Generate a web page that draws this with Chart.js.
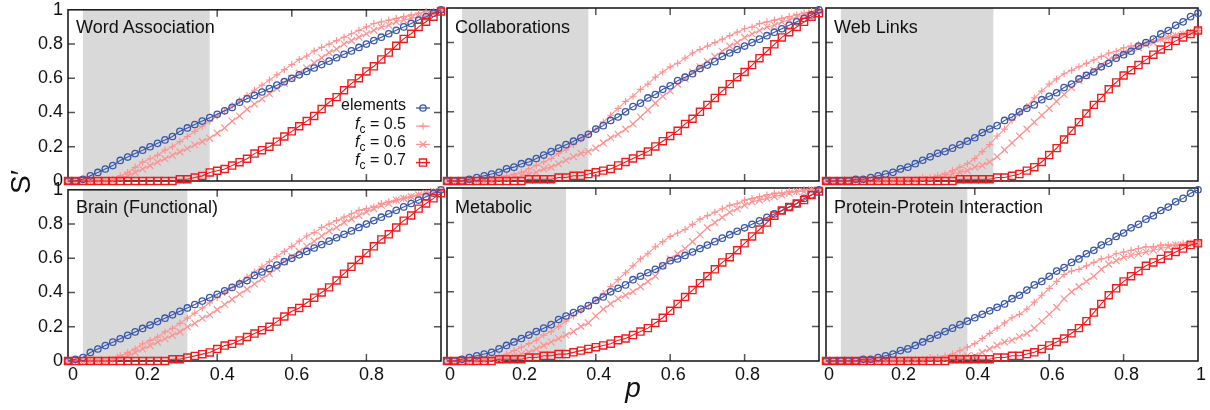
<!DOCTYPE html>
<html>
<head>
<meta charset="utf-8">
<script src="https://cdn.jsdelivr.net/npm/chart.js@4"></script>
<style>
  body { margin: 0; width: 1210px; height: 410px; background: #fff; position: relative; overflow: hidden;
         font-family: "Liberation Sans", Arial, Helvetica, sans-serif; color: #111; }
  canvas { position: absolute; }
  .ttl { position: absolute; font-size: 18px; line-height: 18px; white-space: nowrap; }
  .leg { position: absolute; font-size: 16px; line-height: 18.3px; text-align: right; white-space: nowrap; }
  .leg sub { font-size: 12px; line-height: 0; vertical-align: -4px; }
  .axt { position: absolute; font-size: 28px; text-align: center; white-space: nowrap; }
</style>
</head>
<body>
<script>
// p values (x axis)
const pValues = [
  0, 0.02, 0.04, 0.06, 0.08, 0.1, 0.12, 0.14, 0.16, 0.18,
  0.2, 0.22, 0.24, 0.26, 0.28, 0.3, 0.32, 0.34, 0.36, 0.38,
  0.4, 0.42, 0.44, 0.46, 0.48, 0.5, 0.52, 0.54, 0.56, 0.58,
  0.6, 0.62, 0.64, 0.66, 0.68, 0.7, 0.72, 0.74, 0.76, 0.78,
  0.8, 0.82, 0.84, 0.86, 0.88, 0.9, 0.92, 0.94, 0.96, 0.98,
  1
];
const seriesNames = ["elements", "f_c = 0.5", "f_c = 0.6", "f_c = 0.7"];
const tickValues = [0, 0.2, 0.4, 0.6, 0.8, 1];

// Word Association
const wordElements = [
  0, 0, 0.01, 0.03, 0.05, 0.07, 0.09, 0.12, 0.14, 0.16,
  0.18, 0.20, 0.22, 0.24, 0.26, 0.29, 0.31, 0.33, 0.35, 0.37,
  0.39, 0.41, 0.43, 0.46, 0.48, 0.50, 0.52, 0.54, 0.56, 0.58,
  0.60, 0.62, 0.64, 0.66, 0.68, 0.70, 0.72, 0.74, 0.76, 0.78,
  0.80, 0.82, 0.84, 0.86, 0.88, 0.90, 0.92, 0.94, 0.96, 0.98,
  1
];
const wordF05 = [
  0, 0, 0, 0, 0, 0, 0.01, 0.03, 0.05, 0.08,
  0.11, 0.13, 0.15, 0.18, 0.20, 0.23, 0.26, 0.29, 0.32, 0.35,
  0.38, 0.41, 0.44, 0.47, 0.50, 0.53, 0.56, 0.59, 0.62, 0.65,
  0.68, 0.71, 0.73, 0.76, 0.78, 0.80, 0.82, 0.84, 0.86, 0.88,
  0.90, 0.92, 0.93, 0.94, 0.95, 0.96, 0.97, 0.98, 0.99, 0.99,
  1
];
const wordF06 = [
  0, 0, 0, 0, 0, 0, 0, 0.01, 0.03, 0.05,
  0.07, 0.09, 0.11, 0.13, 0.15, 0.17, 0.19, 0.21, 0.23, 0.25,
  0.28, 0.31, 0.35, 0.38, 0.42, 0.45, 0.48, 0.51, 0.54, 0.57,
  0.60, 0.63, 0.66, 0.69, 0.72, 0.75, 0.77, 0.80, 0.82, 0.84,
  0.86, 0.88, 0.90, 0.91, 0.93, 0.94, 0.95, 0.96, 0.97, 0.98,
  1
];
const wordF07 = [
  0, 0, 0, 0, 0, 0, 0, 0, 0, 0,
  0, 0, 0, 0, 0, 0.01, 0.01, 0.02, 0.03, 0.05,
  0.06, 0.07, 0.09, 0.11, 0.13, 0.16, 0.18, 0.20, 0.23, 0.26,
  0.29, 0.32, 0.35, 0.38, 0.42, 0.46, 0.49, 0.53, 0.57, 0.60,
  0.64, 0.67, 0.71, 0.75, 0.79, 0.83, 0.86, 0.90, 0.93, 0.96,
  0.99
];

// Collaborations
const collabElements = [
  0, 0, 0, 0.01, 0.02, 0.03, 0.04, 0.05, 0.07, 0.08,
  0.10, 0.11, 0.13, 0.15, 0.17, 0.19, 0.21, 0.23, 0.25, 0.27,
  0.30, 0.32, 0.35, 0.37, 0.40, 0.43, 0.45, 0.48, 0.50, 0.53,
  0.55, 0.58, 0.60, 0.62, 0.65, 0.67, 0.69, 0.72, 0.74, 0.76,
  0.78, 0.80, 0.82, 0.84, 0.86, 0.88, 0.90, 0.92, 0.94, 0.96,
  0.99
];
const collabF05 = [
  0, 0, 0, 0, 0, 0, 0.01, 0.02, 0.03, 0.04,
  0.05, 0.07, 0.09, 0.11, 0.13, 0.16, 0.18, 0.21, 0.24, 0.27,
  0.30, 0.34, 0.38, 0.42, 0.46, 0.49, 0.53, 0.56, 0.60, 0.63,
  0.66, 0.68, 0.71, 0.74, 0.76, 0.78, 0.80, 0.82, 0.84, 0.86,
  0.88, 0.89, 0.91, 0.92, 0.93, 0.94, 0.95, 0.96, 0.97, 0.98,
  0.98
];
const collabF06 = [
  0, 0, 0, 0, 0, 0, 0, 0.01, 0.01, 0.02,
  0.03, 0.04, 0.05, 0.07, 0.08, 0.10, 0.12, 0.14, 0.16, 0.17,
  0.19, 0.22, 0.25, 0.27, 0.30, 0.33, 0.37, 0.41, 0.45, 0.49,
  0.52, 0.56, 0.59, 0.63, 0.66, 0.69, 0.72, 0.75, 0.78, 0.80,
  0.83, 0.85, 0.87, 0.89, 0.90, 0.92, 0.93, 0.95, 0.96, 0.97,
  0.98
];
const collabF07 = [
  0, 0, 0, 0, 0, 0, 0, 0, 0, 0,
  0, 0.01, 0.01, 0.01, 0.01, 0.02, 0.02, 0.03, 0.03, 0.04,
  0.05, 0.06, 0.07, 0.09, 0.11, 0.13, 0.15, 0.17, 0.20, 0.23,
  0.26, 0.29, 0.33, 0.36, 0.40, 0.44, 0.48, 0.52, 0.56, 0.60,
  0.63, 0.67, 0.71, 0.75, 0.79, 0.83, 0.86, 0.89, 0.92, 0.95,
  0.97
];

// Web Links
const webElements = [
  0, 0, 0, 0, 0.01, 0.01, 0.02, 0.03, 0.04, 0.05,
  0.07, 0.08, 0.10, 0.12, 0.14, 0.16, 0.17, 0.19, 0.21, 0.23,
  0.25, 0.28, 0.30, 0.32, 0.35, 0.37, 0.40, 0.42, 0.44, 0.47,
  0.49, 0.51, 0.54, 0.56, 0.59, 0.61, 0.63, 0.66, 0.68, 0.71,
  0.73, 0.75, 0.78, 0.80, 0.82, 0.85, 0.87, 0.90, 0.92, 0.95,
  0.97
];
const webF05 = [
  0, 0, 0, 0, 0, 0, 0, 0, 0, 0,
  0, 0.01, 0.01, 0.02, 0.02, 0.03, 0.04, 0.06, 0.08, 0.10,
  0.13, 0.17, 0.21, 0.26, 0.30, 0.35, 0.39, 0.43, 0.48, 0.52,
  0.56, 0.59, 0.62, 0.64, 0.66, 0.68, 0.70, 0.72, 0.74, 0.75,
  0.77, 0.78, 0.79, 0.80, 0.81, 0.82, 0.83, 0.84, 0.85, 0.86,
  0.87
];
const webF06 = [
  0, 0, 0, 0, 0, 0, 0, 0, 0, 0,
  0, 0, 0, 0.01, 0.01, 0.02, 0.03, 0.04, 0.05, 0.06,
  0.08, 0.09, 0.11, 0.14, 0.18, 0.22, 0.26, 0.30, 0.34, 0.38,
  0.42, 0.46, 0.50, 0.54, 0.58, 0.61, 0.64, 0.67, 0.70, 0.72,
  0.74, 0.76, 0.77, 0.79, 0.80, 0.82, 0.83, 0.84, 0.85, 0.86,
  0.87
];
const webF07 = [
  0, 0, 0, 0, 0, 0, 0, 0, 0, 0,
  0, 0, 0, 0, 0, 0, 0, 0, 0.01, 0.01,
  0.01, 0.01, 0.01, 0.02, 0.02, 0.03, 0.04, 0.06, 0.08, 0.11,
  0.15, 0.19, 0.24, 0.29, 0.34, 0.39, 0.44, 0.48, 0.53, 0.57,
  0.61, 0.64, 0.67, 0.70, 0.73, 0.76, 0.78, 0.81, 0.83, 0.85,
  0.87
];

// Brain (Functional)
const brainElements = [
  0, 0.01, 0.02, 0.05, 0.07, 0.09, 0.11, 0.13, 0.15, 0.17,
  0.19, 0.21, 0.23, 0.25, 0.27, 0.29, 0.31, 0.33, 0.35, 0.37,
  0.39, 0.41, 0.43, 0.45, 0.47, 0.50, 0.52, 0.54, 0.56, 0.58,
  0.60, 0.62, 0.64, 0.66, 0.68, 0.70, 0.72, 0.74, 0.76, 0.78,
  0.80, 0.82, 0.84, 0.86, 0.88, 0.90, 0.92, 0.94, 0.96, 0.98,
  1
];
const brainF05 = [
  0, 0, 0, 0, 0, 0, 0.01, 0.03, 0.05, 0.07,
  0.10, 0.12, 0.14, 0.17, 0.19, 0.22, 0.25, 0.28, 0.31, 0.34,
  0.37, 0.40, 0.43, 0.46, 0.49, 0.52, 0.55, 0.58, 0.61, 0.64,
  0.67, 0.70, 0.73, 0.75, 0.78, 0.80, 0.82, 0.84, 0.86, 0.88,
  0.89, 0.90, 0.92, 0.93, 0.94, 0.95, 0.96, 0.97, 0.98, 0.99,
  1
];
const brainF06 = [
  0, 0, 0, 0, 0, 0, 0.01, 0.02, 0.03, 0.05,
  0.07, 0.09, 0.11, 0.13, 0.15, 0.17, 0.20, 0.22, 0.25, 0.27,
  0.30, 0.33, 0.36, 0.39, 0.42, 0.45, 0.48, 0.51, 0.54, 0.58,
  0.61, 0.64, 0.67, 0.70, 0.73, 0.76, 0.78, 0.81, 0.83, 0.85,
  0.87, 0.89, 0.91, 0.92, 0.94, 0.95, 0.96, 0.97, 0.98, 0.99,
  1
];
const brainF07 = [
  0, 0, 0, 0, 0, 0, 0, 0, 0, 0,
  0, 0, 0, 0, 0.01, 0.01, 0.02, 0.03, 0.04, 0.05,
  0.07, 0.09, 0.10, 0.12, 0.14, 0.16, 0.18, 0.20, 0.23, 0.26,
  0.29, 0.31, 0.34, 0.37, 0.40, 0.43, 0.47, 0.51, 0.55, 0.59,
  0.63, 0.67, 0.71, 0.74, 0.78, 0.82, 0.85, 0.89, 0.92, 0.95,
  0.98
];

// Metabolic
const metabElements = [
  0, 0, 0.01, 0.02, 0.03, 0.04, 0.05, 0.07, 0.09, 0.11,
  0.13, 0.15, 0.17, 0.19, 0.21, 0.24, 0.26, 0.28, 0.30, 0.32,
  0.35, 0.37, 0.40, 0.42, 0.44, 0.47, 0.49, 0.51, 0.53, 0.55,
  0.58, 0.59, 0.61, 0.63, 0.65, 0.67, 0.69, 0.71, 0.73, 0.75,
  0.77, 0.79, 0.81, 0.83, 0.85, 0.87, 0.89, 0.91, 0.94, 0.96,
  0.99
];
const metabF05 = [
  0, 0, 0, 0, 0, 0.01, 0.02, 0.03, 0.04, 0.06,
  0.08, 0.10, 0.12, 0.15, 0.17, 0.20, 0.23, 0.26, 0.29, 0.32,
  0.35, 0.39, 0.43, 0.47, 0.51, 0.55, 0.59, 0.62, 0.66, 0.69,
  0.72, 0.74, 0.76, 0.79, 0.82, 0.84, 0.86, 0.88, 0.90, 0.91,
  0.93, 0.94, 0.95, 0.96, 0.97, 0.97, 0.98, 0.98, 0.99, 0.99,
  0.99
];
const metabF06 = [
  0, 0, 0, 0, 0, 0, 0.01, 0.01, 0.02, 0.03,
  0.04, 0.05, 0.07, 0.09, 0.11, 0.13, 0.15, 0.17, 0.20, 0.22,
  0.26, 0.30, 0.33, 0.36, 0.38, 0.40, 0.43, 0.46, 0.49, 0.55,
  0.59, 0.62, 0.65, 0.69, 0.73, 0.77, 0.80, 0.83, 0.86, 0.88,
  0.90, 0.92, 0.93, 0.94, 0.95, 0.96, 0.97, 0.98, 0.98, 0.99,
  0.99
];
const metabF07 = [
  0, 0, 0, 0, 0, 0, 0, 0.01, 0.01, 0.01,
  0.01, 0.02, 0.02, 0.03, 0.03, 0.04, 0.04, 0.05, 0.06, 0.07,
  0.08, 0.09, 0.10, 0.12, 0.13, 0.15, 0.17, 0.19, 0.22, 0.25,
  0.29, 0.33, 0.37, 0.41, 0.45, 0.49, 0.53, 0.57, 0.60, 0.64,
  0.68, 0.72, 0.76, 0.80, 0.84, 0.87, 0.89, 0.91, 0.93, 0.96,
  0.98
];

// Protein-Protein Interaction
const ppiElements = [
  0, 0, 0, 0, 0, 0.01, 0.01, 0.02, 0.03, 0.04,
  0.06, 0.07, 0.09, 0.11, 0.13, 0.15, 0.17, 0.19, 0.21, 0.23,
  0.25, 0.27, 0.29, 0.31, 0.33, 0.36, 0.38, 0.41, 0.44, 0.46,
  0.49, 0.52, 0.54, 0.57, 0.59, 0.62, 0.64, 0.67, 0.69, 0.72,
  0.74, 0.77, 0.79, 0.82, 0.84, 0.87, 0.89, 0.92, 0.94, 0.97,
  0.99
];
const ppiF05 = [
  0, 0, 0, 0, 0, 0, 0, 0, 0, 0,
  0, 0.01, 0.01, 0.01, 0.02, 0.02, 0.03, 0.04, 0.06, 0.08,
  0.10, 0.13, 0.16, 0.19, 0.22, 0.25, 0.27, 0.30, 0.34, 0.38,
  0.42, 0.46, 0.50, 0.52, 0.53, 0.55, 0.57, 0.59, 0.60, 0.62,
  0.63, 0.64, 0.65, 0.66, 0.66, 0.67, 0.67, 0.67, 0.68, 0.68,
  0.68
];
const ppiF06 = [
  0, 0, 0, 0, 0, 0, 0, 0, 0, 0,
  0, 0, 0, 0, 0.01, 0.01, 0.01, 0.02, 0.02, 0.03,
  0.03, 0.05, 0.07, 0.09, 0.11, 0.12, 0.14, 0.16, 0.19, 0.23,
  0.27, 0.31, 0.36, 0.40, 0.43, 0.46, 0.49, 0.53, 0.56, 0.58,
  0.60, 0.61, 0.62, 0.63, 0.64, 0.65, 0.66, 0.67, 0.67, 0.68,
  0.68
];
const ppiF07 = [
  0, 0, 0, 0, 0, 0, 0, 0, 0, 0,
  0, 0, 0, 0, 0, 0, 0, 0.01, 0.01, 0.01,
  0.01, 0.01, 0.01, 0.02, 0.02, 0.03, 0.03, 0.04, 0.05, 0.07,
  0.09, 0.11, 0.13, 0.16, 0.19, 0.23, 0.28, 0.33, 0.38, 0.42,
  0.46, 0.49, 0.52, 0.55, 0.57, 0.59, 0.61, 0.63, 0.65, 0.67,
  0.68
];

const panelTitles = ["Word Association", "Collaborations", "Web Links",
                     "Brain (Functional)", "Metabolic", "Protein-Protein Interaction"];
const shadeFrom = [0.04, 0.04, 0.04, 0.04, 0.04, 0.04];
const shadeTo   = [0.38, 0.38, 0.45, 0.32, 0.32, 0.38];
const panelSeries = [
  [wordElements, wordF05, wordF06, wordF07],
  [collabElements, collabF05, collabF06, collabF07],
  [webElements, webF05, webF06, webF07],
  [brainElements, brainF05, brainF06, brainF07],
  [metabElements, metabF05, metabF06, metabF07],
  [ppiElements, ppiF05, ppiF06, ppiF07]
];

// layout (page pixels)
const colLeft = [68, 447, 826];
const colWidth = [373, 372, 372];
const rowTop = [8, 188];
const plotH = 173;
const padL = 60, padR = 14, padT = 14, padB = 34;
const FONT = "'Liberation Sans', Arial, Helvetica, sans-serif";

const styles = [
  { color: "#3857ab", pointStyle: "circle", radius: 3.2, width: 1.3, order: 1 },
  { color: "#ff9292", pointStyle: "cross", radius: 3.5, width: 1.2, order: 3 },
  { color: "#ff9292", pointStyle: "crossRot", radius: 4.8, width: 1.2, order: 2 },
  { color: "#ee1c1c", pointStyle: "rect", radius: 5, width: 1.4, order: 0 }
];

function drawMarker(ctx, style, r, x, y) {
  ctx.beginPath();
  if (style === "circle") {
    ctx.arc(x, y, r, 0, Math.PI * 2);
  } else if (style === "cross") {
    ctx.moveTo(x - r, y); ctx.lineTo(x + r, y);
    ctx.moveTo(x, y - r); ctx.lineTo(x, y + r);
  } else if (style === "crossRot") {
    const d = r * Math.SQRT1_2;
    ctx.moveTo(x - d, y - d); ctx.lineTo(x + d, y + d);
    ctx.moveTo(x - d, y + d); ctx.lineTo(x + d, y - d);
  } else {
    const d = r * Math.SQRT1_2;
    ctx.rect(x - d, y - d, 2 * d, 2 * d);
  }
  ctx.stroke();
}

const panelDecor = {
  id: "panelDecor",
  beforeDatasetsDraw(chart, args, opts) {
    const { ctx, chartArea: a, scales: { x, y } } = chart;
    ctx.save();
    // inward tick marks on all four sides
    ctx.strokeStyle = "#555";
    ctx.lineWidth = 1.5;
    ctx.beginPath();
    tickValues.slice(1, -1).forEach(v => {
      const px = x.getPixelForValue(v), py = y.getPixelForValue(v);
      ctx.moveTo(px, a.top); ctx.lineTo(px, a.top + 7);
      ctx.moveTo(px, a.bottom); ctx.lineTo(px, a.bottom - 7);
      ctx.moveTo(a.left, py); ctx.lineTo(a.left + 7, py);
      ctx.moveTo(a.right, py); ctx.lineTo(a.right - 7, py);
    });
    ctx.stroke();
    // shaded p-range
    const x0 = x.getPixelForValue(opts.from), x1 = x.getPixelForValue(opts.to);
    ctx.fillStyle = "#d9d9d9";
    ctx.fillRect(x0, a.top, x1 - x0, a.bottom - a.top);
    // frame
    ctx.strokeStyle = "#111";
    ctx.lineWidth = 1.5;
    ctx.strokeRect(a.left, a.top, a.right - a.left, a.bottom - a.top);
    ctx.restore();
  },
  afterDatasetsDraw(chart, args, opts) {
    if (!opts.legend) return;
    const { ctx, chartArea: a } = chart;
    ctx.save();
    chart.data.datasets.forEach((ds, k) => {
      const cy = a.top + 98.2 + k * 18.2;
      const x0 = a.left + 348, x1 = a.left + 362;
      ctx.strokeStyle = ds.borderColor;
      ctx.lineWidth = ds.pointBorderWidth;
      ctx.beginPath(); ctx.moveTo(x0, cy); ctx.lineTo(x1, cy); ctx.stroke();
      drawMarker(ctx, ds.pointStyle, ds.pointRadius, (x0 + x1) / 2, cy);
    });
    ctx.restore();
  }
};

const fmt = v => String(Math.round(v * 10) / 10);

panelSeries.forEach((series, idx) => {
  const col = idx % 3, row = Math.floor(idx / 3);
  const canvas = document.createElement("canvas");
  const w = colWidth[col] + padL + padR, h = plotH + padT + padB;
  canvas.width = w; canvas.height = h;
  canvas.style.width = w + "px"; canvas.style.height = h + "px";
  canvas.style.left = (colLeft[col] - padL) + "px";
  canvas.style.top = (rowTop[row] - padT) + "px";
  document.body.appendChild(canvas);

  new Chart(canvas, {
    type: "line",
    data: {
      datasets: series.map((vals, k) => ({
        label: seriesNames[k],
        data: pValues.map((p, i) => ({ x: p, y: vals[i] })),
        borderColor: styles[k].color,
        borderWidth: 1.1,
        backgroundColor: "rgba(0,0,0,0)",
        pointStyle: styles[k].pointStyle,
        pointRadius: styles[k].radius,
        pointBorderWidth: styles[k].width,
        pointBorderColor: styles[k].color,
        pointBackgroundColor: "rgba(0,0,0,0)",
        tension: 0,
        fill: false,
        clip: false,
        order: styles[k].order
      }))
    },
    options: {
      responsive: false,
      animation: false,
      events: [],
      layout: { padding: { top: padT, right: padR, left: 0, bottom: 0 } },
      plugins: {
        legend: { display: false },
        tooltip: { enabled: false },
        panelDecor: { from: shadeFrom[idx], to: shadeTo[idx], legend: idx === 0 }
      },
      scales: {
        x: {
          type: "linear", min: 0, max: 1,
          grid: { display: false, drawTicks: false },
          border: { display: false },
          ticks: {
            display: row === 1, stepSize: 0.2, autoSkip: false, maxRotation: 0,
            padding: 3, labelOffset: col === 0 ? 5 : 3,
            color: "#111", font: { family: FONT, size: 18 },
            callback: v => (col < 2 && Math.abs(v - 1) < 1e-9) ? "" : fmt(v)
          },
          afterFit: s => { s.height = padB; }
        },
        y: {
          min: 0, max: 1,
          grid: { display: false, drawTicks: false },
          border: { display: false },
          ticks: {
            display: col === 0, stepSize: 0.2, padding: 5,
            color: "#111", font: { family: FONT, size: 18 },
            callback: v => fmt(v)
          },
          afterFit: s => { s.width = padL; }
        }
      }
    },
    plugins: [panelDecor]
  });

  const t = document.createElement("div");
  t.className = "ttl";
  t.textContent = panelTitles[idx];
  t.style.left = (colLeft[col] + 8) + "px";
  t.style.top = (rowTop[row] + 10) + "px";
  document.body.appendChild(t);
});

// legend labels (panel 1)
const leg = document.createElement("div");
leg.className = "leg";
leg.style.right = (1210 - 406) + "px";
leg.style.top = "96.3px";
leg.innerHTML = seriesNames.map(n => n.startsWith("f_c")
  ? "<i>f</i><sub>c</sub>" + n.slice(3)
  : n).join("<br>");
document.body.appendChild(leg);

// axis titles
const xt = document.createElement("div");
xt.className = "axt";
xt.style.cssText = "left:603px;top:374px;width:60px;line-height:28px;font-style:italic;";
xt.textContent = "p";
document.body.appendChild(xt);

const yt = document.createElement("div");
yt.className = "axt";
yt.style.cssText = "left:-9px;top:167px;width:60px;height:30px;line-height:30px;transform:rotate(-90deg);";
yt.textContent = "S\u2032";
document.body.appendChild(yt);
</script>
</body>
</html>
